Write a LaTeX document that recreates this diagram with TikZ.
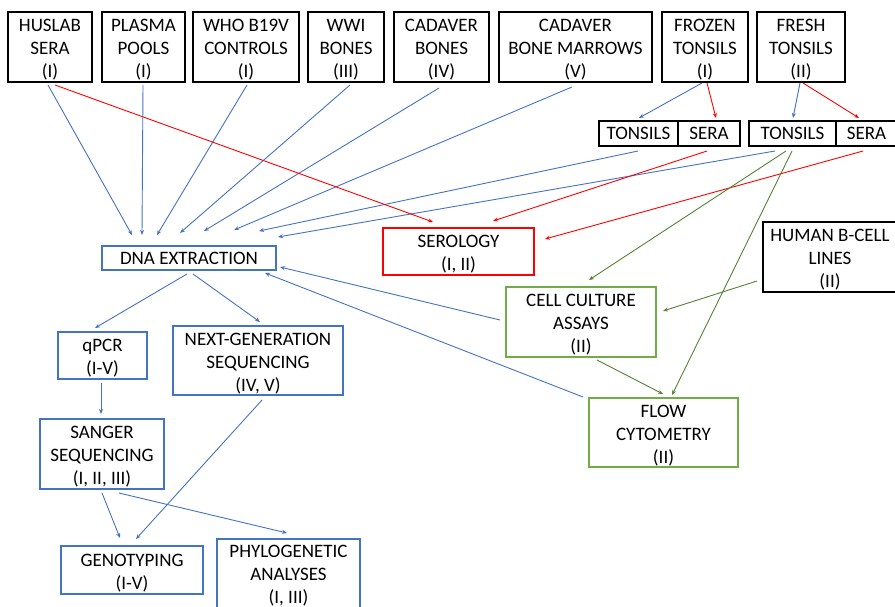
\documentclass[tikz,border=0pt]{standalone}
\usepackage{fontspec}
\setmainfont{Carlito}
\usetikzlibrary{arrows.meta}
\definecolor{cblue}{HTML}{4472C4}
\definecolor{cred}{HTML}{FF0000}
\definecolor{cgreen}{HTML}{548235}
\definecolor{cgbox}{HTML}{70AD47}
\newcommand{\fl}{\rule{0pt}{18pt}}
\tikzset{
  box/.style={draw=black, line width=1.3pt, inner sep=0pt, align=center, font=\fontsize{19}{23}\selectfont},
  bbox/.style={box, draw=cblue},
  rbox/.style={box, draw=cred},
  gbox/.style={box, draw=cgbox},
  conn/.style={line width=0.9pt, -{Stealth[length=5pt,width=4pt]}},
  bl/.style={conn, draw=cblue},
  rd/.style={conn, draw=cred},
  gr/.style={conn, draw=cgreen}
}
\begin{document}
\begin{tikzpicture}[x=1pt,y=-1pt]
\useasboundingbox (0,0) rectangle (895,607);
% top row
\node[box, minimum width=84pt, minimum height=70pt] (huslab) at (50,47) {\fl HUSLAB\\SERA\\(I)};
\node[box, minimum width=83pt, minimum height=70pt] (plasma) at (143.5,47) {\fl PLASMA\\POOLS\\(I)};
\node[box, minimum width=106pt, minimum height=70pt] (who) at (246,47) {\fl WHO B19V\\CONTROLS\\(I)};
\node[box, minimum width=76pt, minimum height=70pt] (wwi) at (346,47) {\fl WWI\\BONES\\(III)};
\node[box, minimum width=95pt, minimum height=70pt] (cadb) at (441.5,47) {\fl CADAVER\\BONES\\(IV)};
\node[box, minimum width=153pt, minimum height=70pt] (cadm) at (575.5,47) {\fl CADAVER\\BONE MARROWS\\(V)};
\node[box, minimum width=86pt, minimum height=70pt] (frozen) at (705,47) {\fl FROZEN\\TONSILS\\(I)};
\node[box, minimum width=88pt, minimum height=70pt] (fresh) at (801,47) {\fl FRESH\\TONSILS\\(II)};
% tonsil / sera pairs
\node[box, minimum width=79pt, minimum height=25pt] (ts1) at (638.5,133.5) {TONSILS};
\node[box, minimum width=62pt, minimum height=25pt] (se1) at (709,133.5) {SERA};
\node[box, minimum width=87pt, minimum height=25pt] (ts2) at (792.5,133.5) {TONSILS};
\node[box, minimum width=61pt, minimum height=25pt] (se2) at (866.5,133.5) {SERA};
% middle
\node[bbox, minimum width=174pt, minimum height=24pt] (dna) at (189,258) {DNA EXTRACTION};
\node[rbox, minimum width=151pt, minimum height=47pt] (sero) at (458.5,251.5) {\fl SEROLOGY\\(I, II)};
\node[box, minimum width=134pt, minimum height=70pt] (bcell) at (830,257) {\fl HUMAN B-CELL\\LINES\\(II)};
\node[gbox, minimum width=150pt, minimum height=70pt] (cell) at (581,322) {\fl CELL CULTURE\\ASSAYS\\(II)};
\node[gbox, minimum width=149pt, minimum height=69pt] (flow) at (663.5,432.5) {\fl FLOW\\CYTOMETRY\\(II)};
% lower
\node[bbox, minimum width=89pt, minimum height=47pt] (qpcr) at (102.5,355.5) {\fl qPCR\\(I-V)};
\node[bbox, minimum width=170pt, minimum height=69pt] (ngs) at (258,360.5) {\fl NEXT-GENERATION\\SEQUENCING\\(IV, V)};
\node[bbox, minimum width=124pt, minimum height=70pt] (sanger) at (102,454) {\fl SANGER\\SEQUENCING\\(I, II, III)};
\node[bbox, minimum width=142pt, minimum height=48pt] (geno) at (132,570) {\fl GENOTYPING\\(I-V)};
\node[bbox, minimum width=143pt, minimum height=73pt] (phylo) at (288.5,575.5) {PHYLOGENETIC\\ANALYSES\\(I, III)};
% blue connectors into DNA extraction
\draw[bl] ([shift={(-2,38)}]huslab.center) -- ([shift={(-57,-23)}]dna.center);
\draw[bl] ([shift={(-0.5,38)}]plasma.center) -- ([shift={(-47,-23)}]dna.center);
\draw[bl] ([shift={(1,38)}]who.center) -- ([shift={(-32,-23)}]dna.center);
\draw[bl] ([shift={(4,38)}]wwi.center) -- ([shift={(-9,-25)}]dna.center);
\draw[bl] ([shift={(-2.5,41)}]cadb.center) -- ([shift={(15,-27)}]dna.center);
\draw[bl] ([shift={(-3.5,40)}]cadm.center) -- ([shift={(45,-28)}]dna.center);
\draw[bl] ([shift={(-0.5,17.5)}]ts1.center) -- ([shift={(70,-27)}]dna.center);
\draw[bl] ([shift={(-17.5,17.5)}]ts2.center) -- ([shift={(89,-21)}]dna.center);
\draw[bl] ([shift={(-81,-2)}]cell.center) -- ([shift={(91,9)}]dna.center);
\draw[bl] ([shift={(-80.5,-35.5)}]flow.center) -- ([shift={(76,15)}]dna.center);
% tonsils split
\draw[bl] ([shift={(-3,36)}]frozen.center) -- ([shift={(0.5,-15.5)}]ts1.center);
\draw[rd] ([shift={(2,36)}]frozen.center) -- ([shift={(7,-15.5)}]se1.center);
\draw[bl] ([shift={(-1,36)}]fresh.center) -- ([shift={(0.5,-15.5)}]ts2.center);
\draw[rd] ([shift={(2,36)}]fresh.center) -- ([shift={(-7.5,-15.5)}]se2.center);
% serology
\draw[rd] ([shift={(5,38)}]huslab.center) -- ([shift={(-25.5,-29.5)}]sero.center);
\draw[rd] ([shift={(-2,17.5)}]se1.center) -- ([shift={(34.5,-30.5)}]sero.center);
\draw[rd] ([shift={(-3.5,17.5)}]se2.center) -- ([shift={(86.5,-12.5)}]sero.center);
% green
\draw[gr] ([shift={(-6.5,17.5)}]ts2.center) -- ([shift={(8,-42)}]cell.center);
\draw[gr] ([shift={(-0.5,17.5)}]ts2.center) -- ([shift={(8.5,-37.5)}]flow.center);
\draw[gr] ([shift={(-73,24)}]bcell.center) -- ([shift={(82,-11)}]cell.center);
\draw[gr] ([shift={(16,38)}]cell.center) -- ([shift={(-0.5,-38.5)}]flow.center);
% lower blue
\draw[bl] ([shift={(-2,16)}]dna.center) -- ([shift={(-7.5,-27.5)}]qpcr.center);
\draw[bl] ([shift={(4,16)}]dna.center) -- ([shift={(2,-38.5)}]ngs.center);
\draw[bl] ([shift={(-1.5,27.5)}]qpcr.center) -- ([shift={(-1,-40)}]sanger.center);
\draw[bl] ([shift={(0,39)}]sanger.center) -- ([shift={(-12,-32)}]geno.center);
\draw[bl] ([shift={(17,39)}]sanger.center) -- ([shift={(-1.5,-42.5)}]phylo.center);
\draw[bl] ([shift={(4,39.5)}]ngs.center) -- ([shift={(4,-31)}]geno.center);
\end{tikzpicture}
\end{document}
